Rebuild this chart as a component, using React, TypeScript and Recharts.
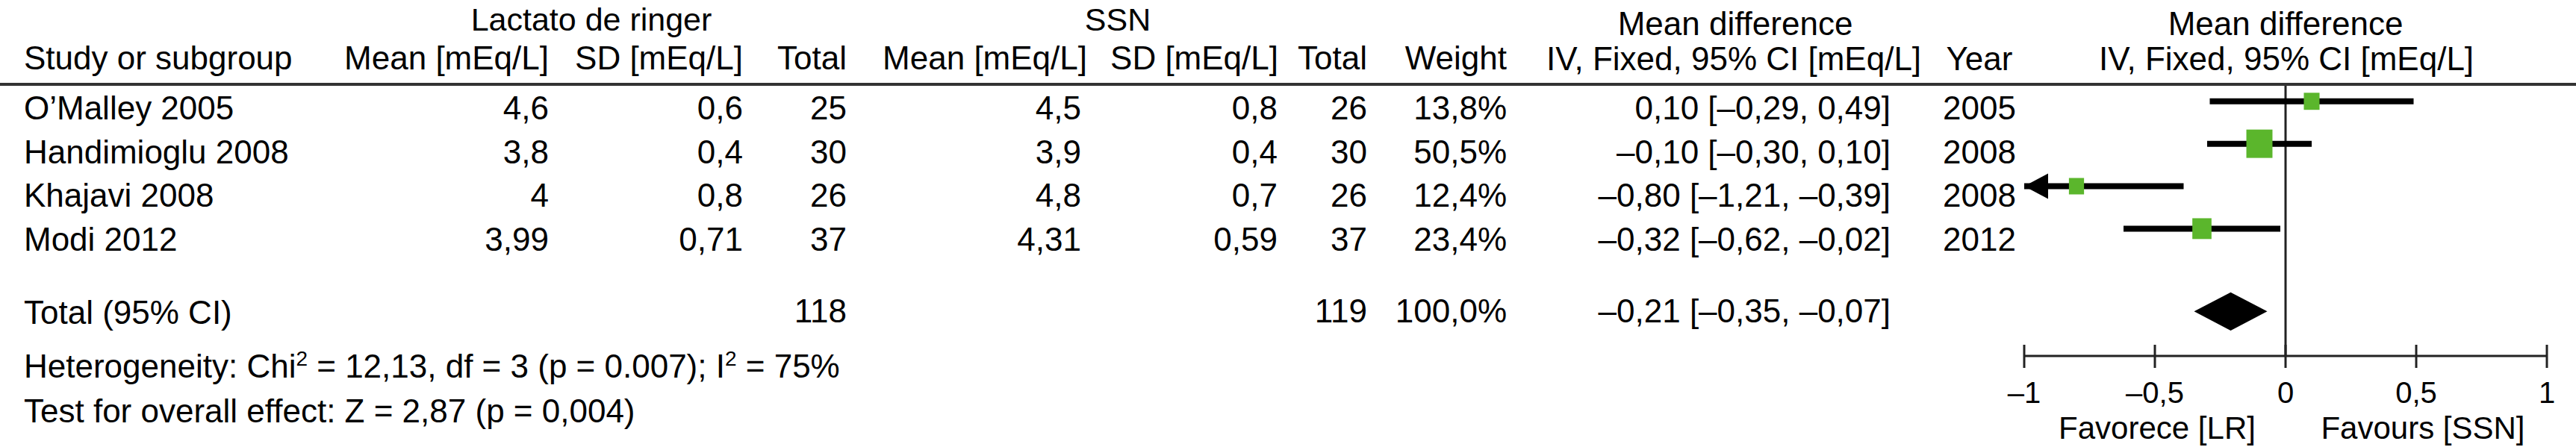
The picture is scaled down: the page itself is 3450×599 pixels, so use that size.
import React from 'react';
import {
  ComposedChart,
  XAxis,
  YAxis,
  Scatter,
  ReferenceLine,
  ReferenceArea,
} from 'recharts';

// table data
const studies = ['O’Malley 2005', 'Handimioglu 2008', 'Khajavi 2008', 'Modi 2012'];
const lrMean = [4.6, 3.8, 4, 3.99];
const lrSd = [0.6, 0.4, 0.8, 0.71];
const lrTotal = [25, 30, 26, 37];
const ssnMean = [4.5, 3.9, 4.8, 4.31];
const ssnSd = [0.8, 0.4, 0.7, 0.59];
const ssnTotal = [26, 30, 26, 37];
const weights = [13.8, 50.5, 12.4, 23.4];
const meanDiff = [0.1, -0.1, -0.8, -0.32];
const ciLow = [-0.29, -0.3, -1.21, -0.62];
const ciHigh = [0.49, 0.1, -0.39, -0.02];
const years = [2005, 2008, 2008, 2012];

const pooled = { lr: 118, ssn: 119, weight: 100.0, md: -0.21, low: -0.35, high: -0.07 };
const axisTicks = [-1, -0.5, 0, 0.5, 1];

const W = 3450;
const H = 599;
const X_MIN = -1;
const X_MAX = 1;
const TOTAL_ROW = 4.95;
const GREEN = '#5bb62c';
const FONT = '"Liberation Sans", Arial, Helvetica, sans-serif';
const FS = 44;
const TICK_SIZE = 10;

document.body.style.margin = '0';

const num = (v: number, digits?: number) => {
  const s = digits === undefined ? String(Math.abs(v)) : Math.abs(v).toFixed(digits);
  return (v < 0 ? '–' : '') + s.replace('.', ',');
};
const ciText = (m: number, lo: number, hi: number) =>
  `${num(m, 2)} [${num(lo, 2)}, ${num(hi, 2)}]`;

const rows = studies.map((name, i) => ({
  name,
  x: meanDiff[i],
  y: i,
  lo: ciLow[i],
  hi: ciHigh[i],
  weight: weights[i],
}));
const arrows = rows.filter((r) => r.lo < X_MIN).map((r) => ({ x: X_MIN, y: r.y }));

const T = ({ x, y, a = 'start', size = FS, children }: any) => (
  <text x={x} y={y} textAnchor={a} fontSize={size} fontFamily={FONT} fill="#000">
    {children}
  </text>
);

const Square = (p: any) => {
  const h = 6.3 + 4.46 * Math.sqrt(p.payload.weight);
  const w = h * 0.92;
  return <rect x={p.cx - w / 2} y={p.cy - h / 2} width={w} height={h} fill={GREEN} />;
};

const Arrow = (p: any) => (
  <polygon
    points={`${p.cx},${p.cy} ${p.cx + 32},${p.cy - 17} ${p.cx + 32},${p.cy + 17}`}
    fill="#000"
  />
);

const Diamond = (p: any) => {
  const { x, y, width, height } = p;
  return (
    <polygon
      points={`${x},${y + height / 2} ${x + width / 2},${y} ${x + width},${y + height / 2} ${x + width / 2},${y + height}`}
      fill="#000"
    />
  );
};

const AxisTick = (p: any) => {
  const axisY = p.y - TICK_SIZE;
  return (
    <g>
      <line x1={p.x} x2={p.x} y1={axisY - 15} y2={axisY + 16} stroke="#222" strokeWidth={3} />
      <text x={p.x} y={axisY + 63} textAnchor="middle" fontSize={40} fontFamily={FONT} fill="#000">
        {num(p.payload.value)}
      </text>
    </g>
  );
};

const rowBase = (i: number) => 160 + 58.7 * i;

const Table = () => (
  <svg width={W} height={H} style={{ position: 'absolute', left: 0, top: 0, pointerEvents: 'none' }}>
    <T x={792} y={41} a="middle" size={43}>Lactato de ringer</T>
    <T x={1497} y={41} a="middle" size={43}>SSN</T>
    <T x={2324} y={47} a="middle">Mean difference</T>
    <T x={3061} y={47} a="middle">Mean difference</T>

    <T x={32} y={93}>Study or subgroup</T>
    <T x={735} y={93} a="end">Mean [mEq/L]</T>
    <T x={995} y={93} a="end">SD [mEq/L]</T>
    <T x={1134} y={93} a="end">Total</T>
    <T x={1456} y={93} a="end">Mean [mEq/L]</T>
    <T x={1712} y={93} a="end">SD [mEq/L]</T>
    <T x={1831} y={93} a="end">Total</T>
    <T x={2018} y={93} a="end">Weight</T>
    <T x={2322} y={94} a="middle">IV, Fixed, 95% CI [mEq/L]</T>
    <T x={2651} y={94} a="middle">Year</T>
    <T x={3062} y={94} a="middle">IV, Fixed, 95% CI [mEq/L]</T>

    <line x1={0} x2={W} y1={113} y2={113} stroke="#333" strokeWidth={4} />

    {studies.map((s, i) => (
      <g key={s}>
        <T x={32} y={rowBase(i)}>{s}</T>
        <T x={735} y={rowBase(i)} a="end">{num(lrMean[i])}</T>
        <T x={995} y={rowBase(i)} a="end">{num(lrSd[i])}</T>
        <T x={1134} y={rowBase(i)} a="end">{lrTotal[i]}</T>
        <T x={1448} y={rowBase(i)} a="end">{num(ssnMean[i])}</T>
        <T x={1711} y={rowBase(i)} a="end">{num(ssnSd[i])}</T>
        <T x={1831} y={rowBase(i)} a="end">{ssnTotal[i]}</T>
        <T x={2018} y={rowBase(i)} a="end">{num(weights[i], 1)}%</T>
        <T x={2532} y={rowBase(i)} a="end">{ciText(meanDiff[i], ciLow[i], ciHigh[i])}</T>
        <T x={2651} y={rowBase(i)} a="middle">{years[i]}</T>
      </g>
    ))}

    <T x={32} y={434}>Total (95% CI)</T>
    <T x={1134} y={432} a="end">{pooled.lr}</T>
    <T x={1831} y={432} a="end">{pooled.ssn}</T>
    <T x={2018} y={432} a="end">{num(pooled.weight, 1)}%</T>
    <T x={2532} y={432} a="end">{ciText(pooled.md, pooled.low, pooled.high)}</T>

    <T x={32} y={506}>
      Heterogeneity: Chi<tspan fontSize={28} dy={-16}>2</tspan>
      <tspan dy={16}> = 12,13, df = 3 (p = 0.007); I</tspan>
      <tspan fontSize={28} dy={-16}>2</tspan>
      <tspan dy={16}> = 75%</tspan>
    </T>
    <T x={32} y={566}>Test for overall effect: Z = 2,87 (p = 0,004)</T>

    <T x={2889} y={588} a="middle" size={42}>Favorece [LR]</T>
    <T x={3245} y={588} a="middle" size={42}>Favours [SSN]</T>
  </svg>
);

export default function App() {
  return (
    <div style={{ position: 'relative', width: W, height: H, background: '#fff', overflow: 'hidden' }}>
      <div style={{ position: 'absolute', left: 0, top: 0 }}>
        <ComposedChart width={W} height={H} margin={{ top: 113, right: 39, bottom: 0, left: 2711 }}>
          <XAxis
            type="number"
            dataKey="x"
            domain={[X_MIN, X_MAX]}
            ticks={axisTicks}
            interval={0}
            allowDataOverflow
            height={122}
            tickSize={TICK_SIZE}
            tickMargin={0}
            tickLine={false}
            axisLine={{ stroke: '#222', strokeWidth: 3 }}
            tick={AxisTick}
          />
          <YAxis type="number" dataKey="y" domain={[-0.4, 6]} reversed hide width={0} allowDataOverflow />
          <ReferenceLine x={0} stroke="#222" strokeWidth={3} ifOverflow="visible" />
          {rows.map((r) => (
            <ReferenceLine
              key={r.name}
              segment={[
                { x: Math.max(r.lo, X_MIN), y: r.y },
                { x: Math.min(r.hi, X_MAX), y: r.y },
              ]}
              stroke="#000"
              strokeWidth={8}
              ifOverflow="visible"
            />
          ))}
          <ReferenceArea
            x1={pooled.low}
            x2={pooled.high}
            y1={TOTAL_ROW - 0.45}
            y2={TOTAL_ROW + 0.45}
            shape={Diamond}
            ifOverflow="visible"
          />
          <Scatter data={arrows} shape={Arrow} isAnimationActive={false} />
          <Scatter data={rows} shape={Square} isAnimationActive={false} />
        </ComposedChart>
      </div>
      <Table />
    </div>
  );
}
